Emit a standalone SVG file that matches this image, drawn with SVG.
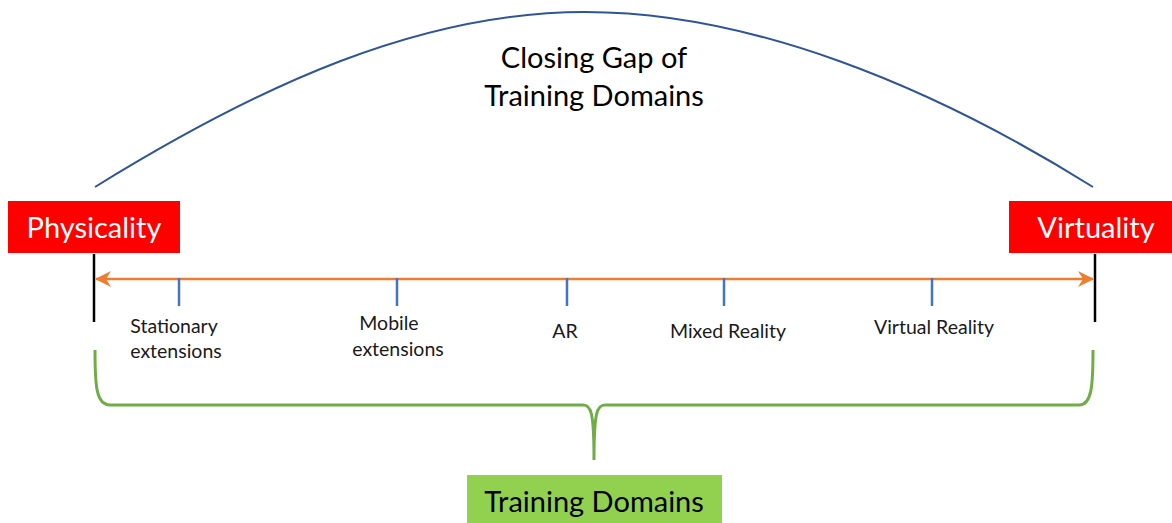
<svg xmlns="http://www.w3.org/2000/svg" width="1172" height="523" viewBox="0 0 1172 523">
<defs>
<style>
text{font-family:Lato,"Open Sans","Liberation Sans",sans-serif}
.lbl{font-size:19.5px;fill:#1a1a1a;text-anchor:middle}
.tick{stroke:#4472C4;stroke-width:2.5}
.end{stroke:#000;stroke-width:2.5}
.box{font-size:29px;fill:#fff;text-anchor:middle}
.big{font-size:29px;fill:#000;text-anchor:middle}
</style>
<marker id="ah" viewBox="0 0 16 16" refX="15" refY="8" markerWidth="16" markerHeight="16" markerUnits="userSpaceOnUse" orient="auto-start-reverse">
<path d="M0,0 L16,8 L0,16 L5,8 z" fill="#ED7D31"/>
</marker>
</defs>
<rect width="1172" height="523" fill="#fff"/>
<g id="connectors">
<path id="gap-curve" d="M95,187 C260,85 420,12 585,12 C750,12 930,85 1093,187" fill="none" stroke="#2F5597" stroke-width="2"/>
<line class="end" x1="94" y1="254" x2="94" y2="322"/>
<line class="end" x1="1095" y1="254" x2="1095" y2="322"/>
<line x1="96" y1="279" x2="1093" y2="279" stroke="#ED7D31" stroke-width="2.5" marker-start="url(#ah)" marker-end="url(#ah)"/>
<path id="brace" d="M95,350 C95,385 96,405 110,405 L583,405 C591,405 594,412 594,460 C594,412 597,405 605,405 L1079,405 C1092,405 1093,385 1093,350" fill="none" stroke="#70AD47" stroke-width="3"/>
</g>
<g id="title">
<text class="big" x="594" y="68">Closing Gap of</text>
<text class="big" x="594" y="106">Training Domains</text>
</g>
<g id="physicality">
<rect x="8" y="201" width="172" height="52" fill="#FF0000"/>
<text class="box" x="94" y="238">Physicality</text>
</g>
<g id="virtuality">
<rect x="1009" y="201" width="163" height="52" fill="#FF0000"/>
<text class="box" x="1096" y="238">Virtuality</text>
</g>
<g id="stationary">
<line class="tick" x1="179" y1="278" x2="179" y2="306"/>
<text class="lbl" x="174" y="333">Stationary</text>
<text class="lbl" x="176" y="358">extensions</text>
</g>
<g id="mobile">
<line class="tick" x1="397" y1="278" x2="397" y2="306"/>
<text class="lbl" x="389" y="330">Mobile</text>
<text class="lbl" x="398" y="356">extensions</text>
</g>
<g id="ar">
<line class="tick" x1="567" y1="278" x2="567" y2="306"/>
<text class="lbl" x="565" y="338">AR</text>
</g>
<g id="mixed">
<line class="tick" x1="724" y1="278" x2="724" y2="306"/>
<text class="lbl" x="728" y="338">Mixed Reality</text>
</g>
<g id="virtual">
<line class="tick" x1="932" y1="278" x2="932" y2="306"/>
<text class="lbl" x="934" y="334">Virtual Reality</text>
</g>
<g id="training-domains">
<rect x="467" y="475" width="255" height="48" fill="#92D050"/>
<text class="big" x="594" y="512">Training Domains</text>
</g>
</svg>
